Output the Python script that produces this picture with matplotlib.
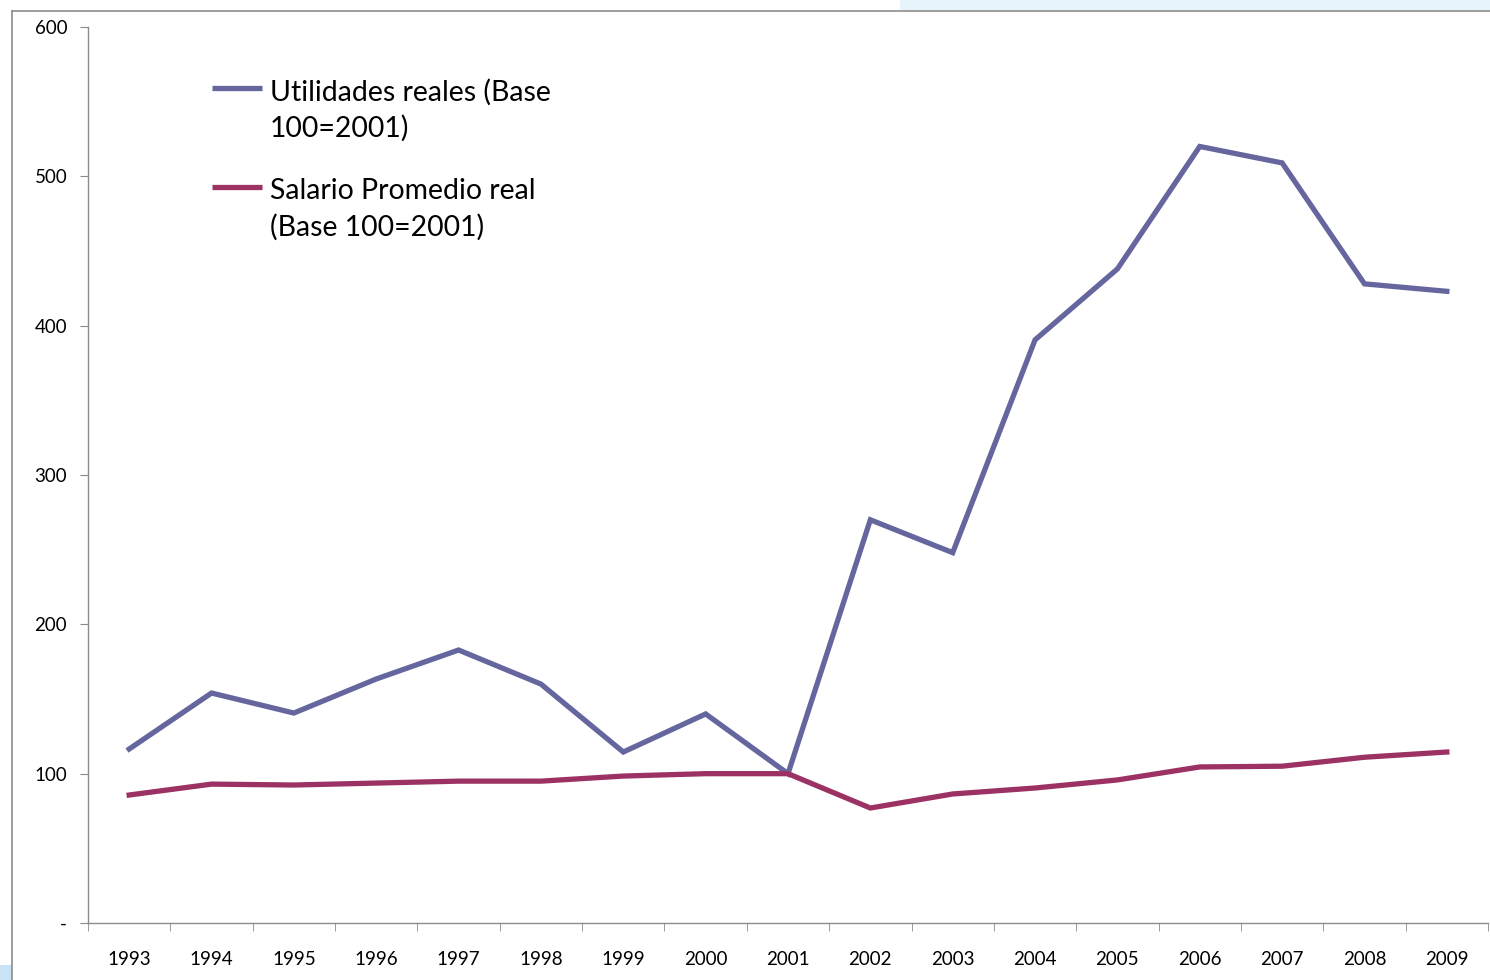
import matplotlib
matplotlib.use("Agg")
import matplotlib.pyplot as plt
from matplotlib.patches import Rectangle
from matplotlib.lines import Line2D

years = ["1993", "1994", "1995", "1996", "1997", "1998", "1999", "2000", "2001",
         "2002", "2003", "2004", "2005", "2006", "2007", "2008", "2009"]
utilidades = [116.5, 154, 140.6, 163.4, 182.8, 160, 114.5, 140, 100,
              270, 248, 390.5, 438, 520, 509, 428, 423]
salario = [85.7, 93, 92.4, 93.7, 95, 95, 98.4, 100, 100,
           77, 86.4, 90.4, 95.8, 104.5, 105, 111, 114.5]
yticks = [0, 100, 200, 300, 400, 500, 600]
yticklabels = ["-", "100", "200", "300", "400", "500", "600"]
labels = [["Utilidades reales (Base", "100=2001)"], ["Salario Promedio real", "(Base 100=2001)"]]
colors = ["#65669E", "#9B3263"]

plt.rcParams['font.family'] = ['Lato', 'DejaVu Sans']

W, H = 1490, 980
fig = plt.figure(figsize=(W / 100, H / 100), dpi=100)
fig.patch.set_facecolor("white")

# slide background artifacts
fig.add_artist(Rectangle((900 / W, 1 - 10 / H), 1, 10 / H, transform=fig.transFigure,
                         facecolor="#E8F4FB", edgecolor="none", zorder=0))
fig.add_artist(Rectangle((0, 0), 12 / W, 15 / H, transform=fig.transFigure,
                         facecolor="#C9E3F5", edgecolor="none", zorder=0))
# chart frame
fig.add_artist(Line2D([12 / W, 1], [1 - 11 / H, 1 - 11 / H], transform=fig.transFigure,
                      color="#8C8C8C", lw=1.2))
fig.add_artist(Line2D([12 / W, 12 / W], [0, 1 - 11 / H], transform=fig.transFigure,
                      color="#8C8C8C", lw=1.2))

x0, x1, yb, yt = 88, 1488, 923, 27
ax = fig.add_axes([x0 / W, (H - yb) / H, (x1 - x0) / W, (yb - yt) / H])
x = list(range(len(years)))
ax.plot(x, utilidades, color=colors[0], lw=3.8, solid_joinstyle="miter")
ax.plot(x, salario, color=colors[1], lw=3.8, solid_joinstyle="miter")

ax.set_xlim(-0.5, len(years) - 0.5)
ax.set_ylim(0, 600)
ax.set_yticks(yticks)
ax.set_yticklabels(yticklabels, fontsize=13.5)
ax.set_xticks(x)
ax.set_xticklabels(years, fontsize=13.5)
ax.set_xticks([i - 0.5 for i in range(len(years) + 1)], minor=True)
ax.tick_params(axis="x", which="major", length=0, pad=20)
ax.tick_params(axis="x", which="minor", length=6, color="#8C8C8C", direction="out")
ax.tick_params(axis="y", length=6, color="#8C8C8C", direction="out", pad=9)

for s in ["top", "right"]:
    ax.spines[s].set_visible(False)
for s in ["left", "bottom"]:
    ax.spines[s].set_color("#8C8C8C")
    ax.spines[s].set_linewidth(1.0)

# legend (drawn manually so the key aligns with the first text line, as in the original)
def axc(px, py):
    return (px - x0) / (x1 - x0), (yb - py) / (yb - yt)

entries = [(88, [92, 128]), (187, [191, 227])]
for (ly, tys), lab, c in zip(entries, labels, colors):
    (ax_a, ay), (ax_b, _) = axc(212, ly), axc(262, ly)
    ax.add_line(Line2D([ax_a, ax_b], [ay, ay], transform=ax.transAxes, color=c,
                       lw=3.8, solid_capstyle="butt"))
    for ty, txt in zip(tys, lab):
        tx, tyy = axc(270, ty)
        ax.text(tx, tyy, txt, transform=ax.transAxes, fontsize=20.4, va="center",
                ha="left", color="black")

fig.savefig("out.png", dpi=100, facecolor="white")
